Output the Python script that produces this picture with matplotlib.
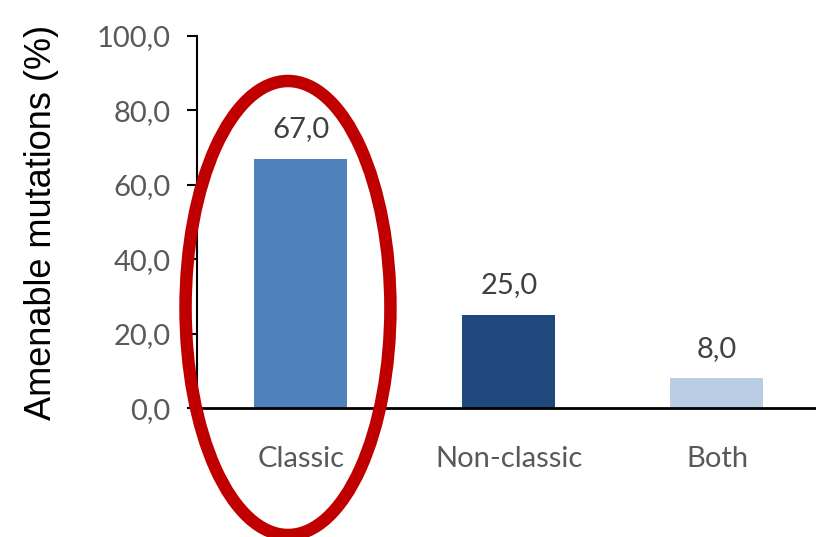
import matplotlib.pyplot as plt
from matplotlib.patches import Ellipse

categories = ['Classic', 'Non-classic', 'Both']
values = [67.0, 25.0, 8.0]
colors = ['#4F81BD', '#1F497D', '#B9CDE5']
yticks = [0, 20, 40, 60, 80, 100]

fig = plt.figure(figsize=(8.16, 5.37), dpi=100)
ax = fig.add_axes([0.2414, 0.240, 0.7647, 0.693])

x = range(len(categories))
ax.bar(x, values, width=0.447, color=colors, zorder=2)
for xi, v in zip(x, values):
    ax.text(xi, v + 4.5, f'{v:.1f}'.replace('.', ','), ha='center', va='bottom',
            fontsize=21, color='#404040', family='Lato')

ax.set_xlim(-0.5, 2.5)
ax.set_ylim(0, 100)
ax.set_xticks(list(x))
ax.set_xticklabels(categories, fontsize=21, color='#595959', family='Lato')
ax.set_yticks(yticks)
ax.set_yticklabels([f'{t:.1f}'.replace('.', ',') for t in yticks],
                   fontsize=21, color='#595959', family='Lato')
ax.tick_params(axis='x', length=0, pad=27)
ax.tick_params(axis='y', direction='out', length=7, width=1.5, pad=12)

for s in ['top', 'right']:
    ax.spines[s].set_visible(False)
ax.spines['left'].set_linewidth(1.5)
ax.spines['bottom'].set_linewidth(2)

ax.set_ylabel('Amenable mutations (%)', fontsize=26, family='Liberation Sans',
              color='black', labelpad=27)

# red highlight ellipse around Classic
ell = Ellipse((-0.0625, 26.9), 0.985, 122, fill=False, edgecolor='#C00000',
              linewidth=9, clip_on=False, zorder=5)
ax.add_patch(ell)

fig.savefig('out.png', dpi=100)
